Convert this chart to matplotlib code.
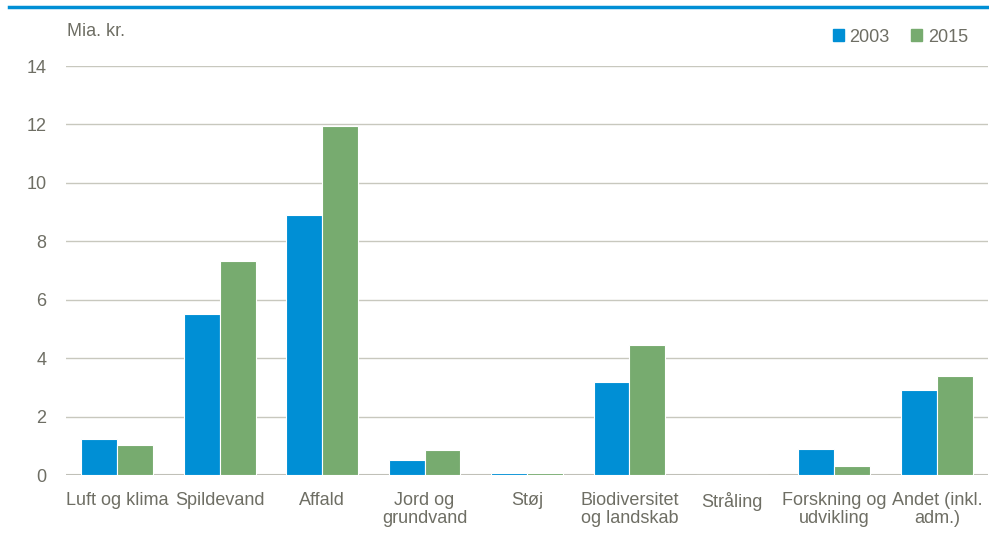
import matplotlib.pyplot as plt
import numpy as np
from matplotlib.lines import Line2D
from matplotlib.patches import Patch

plt.rcParams['font.family'] = ['Liberation Sans Narrow', 'Liberation Sans', 'DejaVu Sans']

categories = ['Luft og klima', 'Spildevand', 'Affald', 'Jord og\ngrundvand', 'Støj',
              'Biodiversitet\nog landskab', 'Stråling', 'Forskning og\nudvikling', 'Andet (inkl.\nadm.)']
v2003 = [1.22, 5.5, 8.89, 0.51, 0.07, 3.2, 0.0, 0.89, 2.9]
v2015 = [1.03, 7.34, 11.94, 0.86, 0.07, 4.45, 0.0, 0.31, 3.38]
yticks = [0, 2, 4, 6, 8, 10, 12, 14]

blue = '#008fd5'
green = '#77ab6f'
txt = '#6e6e64'
grid = '#c8c8be'

fig = plt.figure(figsize=(9.89, 5.41), dpi=100)
ax = fig.add_axes([66/989, 1-475/541, 922/989, 409/541])

x = np.arange(len(categories))
w = 0.35
ax.bar(x - w/2, v2003, w, color=blue, edgecolor='white', linewidth=0.8, zorder=3)
ax.bar(x + w/2, v2015, w, color=green, edgecolor='white', linewidth=0.8, zorder=3)

ax.set_xlim(-0.5, len(categories) - 0.5)
ax.set_ylim(0, 14)
ax.set_yticks(yticks)
ax.set_yticklabels([str(t) for t in yticks])
ax.set_xticks(x)
ax.set_xticklabels(categories, linespacing=1.1)
ax.tick_params(length=0, labelsize=13, colors=txt)
ax.tick_params(axis='y', pad=14)
ax.tick_params(axis='x', pad=12)
for s in ax.spines.values():
    s.set_visible(False)
ax.grid(axis='y', color=grid, linewidth=1, zorder=0)
ax.axhline(0, color='#c0c0b8', linewidth=1.5, zorder=2)

fig.text(67/989, 1-32/541, 'Mia. kr.', color=txt, fontsize=13, va='center', ha='left')

handles = [Patch(color=blue), Patch(color=green)]
fig.legend(handles, ['2003', '2015'], loc='center right', bbox_to_anchor=(975/989, 1-37/541),
           ncol=2, frameon=False, fontsize=13, labelcolor=txt, handlelength=0.6, handleheight=0.6,
           handletextpad=0.3, columnspacing=1.2, borderaxespad=0)

fig.add_artist(Line2D([9/989, 1], [1-7/541, 1-7/541], color=blue, linewidth=2.5))

fig.savefig('out.png', dpi=100)
